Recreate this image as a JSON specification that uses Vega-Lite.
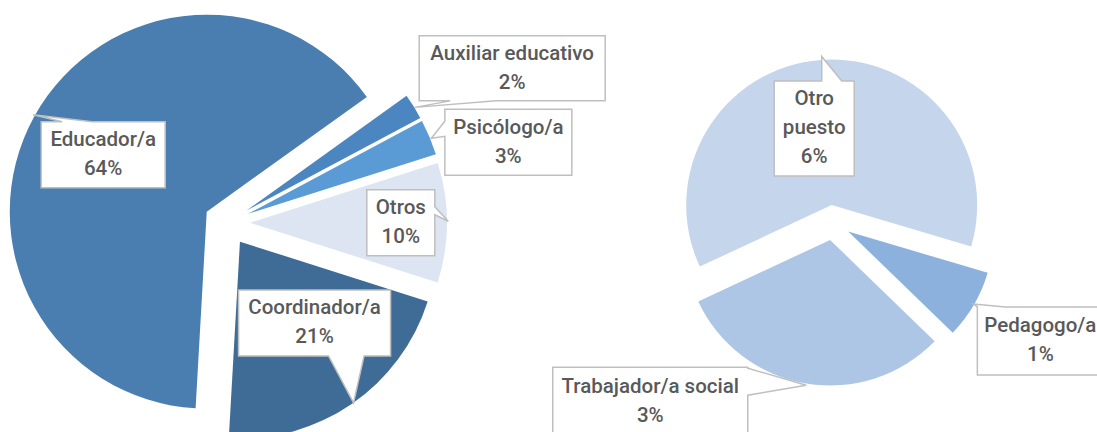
{
  "$schema": "https://vega.github.io/schema/vega-lite/v6.json",
  "autosize": {"type": "none"},
  "width": 1097,
  "height": 432,
  "padding": 0,
  "background": "white",
  "config": {"view": {"stroke": null}},
  "params": [
    {"name": "cx1", "value": 226.9},
    {"name": "cy1", "value": 222.75},
    {"name": "r1", "value": 197},
    {"name": "e1", "value": 23},
    {"name": "a1", "value": 0.9488},
    {"name": "cx2", "value": 833},
    {"name": "cy2", "value": 222.6},
    {"name": "r2", "value": 145.5},
    {"name": "e2", "value": 17.6},
    {"name": "a2", "value": 1.8588},
    {"name": "lab", "value": {
      "Educador/a": [0.60, 0],
      "Coordinador/a": [0.56, -8],
      "Otros": [0.766, 0],
      "Psicólogo/a": [1.37, 7.5],
      "Auxiliar educativo": [1.53, 3.7],
      "Otro puesto": [0.54, -8.6],
      "Trabajador/a social": [1.66, 38.6],
      "Pedagogo/a": [1.52, -0.6]
    }}
  ],
  "data": {"values": [
    {"grafico": "principal", "puesto": "Auxiliar educativo", "valor": 2.1, "orden": 1},
    {"grafico": "principal", "puesto": "Psicólogo/a", "valor": 2.9, "orden": 2},
    {"grafico": "principal", "puesto": "Otros", "valor": 9.8, "orden": 3},
    {"grafico": "principal", "puesto": "Coordinador/a", "valor": 21.0, "orden": 4},
    {"grafico": "principal", "puesto": "Educador/a", "valor": 64.2, "orden": 5},
    {"grafico": "secundario", "puesto": "Pedagogo/a", "valor": 0.75, "orden": 1},
    {"grafico": "secundario", "puesto": "Trabajador/a social", "valor": 3.02, "orden": 2},
    {"grafico": "secundario", "puesto": "Otro puesto", "valor": 6.03, "orden": 3}
  ]},
  "transform": [
    {"stack": "valor", "groupby": ["grafico"], "sort": [{"field": "orden", "order": "ascending"}], "as": ["ini", "fin"]}
  ],
  "resolve": {"scale": {"theta": "independent"}},
  "layer": [
    {
      "transform": [{"filter": "datum.grafico == 'principal'"}],
      "mark": {
        "type": "arc",
        "outerRadius": 197,
        "x": {"expr": "cx1 + e1*sin(a1 + PI*(datum.ini+datum.fin)/100)"},
        "y": {"expr": "cy1 - e1*cos(a1 + PI*(datum.ini+datum.fin)/100)"}
      },
      "encoding": {
        "theta": {"field": "ini", "type": "quantitative", "scale": {"domain": [0, 100], "range": [0.9488, 7.232]}},
        "theta2": {"field": "fin"},
        "color": {"field": "puesto", "type": "nominal", "legend": null,
          "scale": {"domain": ["Educador/a", "Coordinador/a", "Otros", "Psicólogo/a", "Auxiliar educativo", "Otro puesto", "Trabajador/a social", "Pedagogo/a"],
                    "range": ["#4a7eb0", "#3f6b97", "#dde5f3", "#5b9bd5", "#4b86c0", "#c5d6ec", "#adc6e5", "#8cb1dc"]}}
      }
    },
    {
      "transform": [{"filter": "datum.grafico == 'secundario'"}],
      "mark": {
        "type": "arc",
        "outerRadius": 145.5,
        "x": {"expr": "cx2 + e2*sin(a2 + PI*(datum.ini+datum.fin)/9.8)"},
        "y": {"expr": "cy2 - e2*cos(a2 + PI*(datum.ini+datum.fin)/9.8)"}
      },
      "encoding": {
        "theta": {"field": "ini", "type": "quantitative", "scale": {"domain": [0, 9.8], "range": [1.8588, 8.142]}},
        "theta2": {"field": "fin"},
        "color": {"field": "puesto", "type": "nominal", "legend": null}
      }
    },
    {
      "transform": [{"filter": "datum.puesto == 'Otros'"}],
      "mark": {
        "type": "rule", "stroke": "#a6a6a6", "strokeWidth": 1.5,
        "x": {"expr": "cx1 + e1*sin(a1 + PI*(datum.ini+datum.fin)/100) + r1*sin(a1 + 2*PI*datum.ini/100)"},
        "y": {"expr": "cy1 - e1*cos(a1 + PI*(datum.ini+datum.fin)/100) - r1*cos(a1 + 2*PI*datum.ini/100)"},
        "x2": {"expr": "cx2 - 58"},
        "y2": {"expr": "cy2 - 157"}
      },
      "encoding": {}
    },
    {
      "transform": [{"filter": "datum.puesto == 'Otros'"}],
      "mark": {
        "type": "rule", "stroke": "#a6a6a6", "strokeWidth": 1.5,
        "x": {"expr": "cx1 + e1*sin(a1 + PI*(datum.ini+datum.fin)/100) + r1*sin(a1 + 2*PI*datum.fin/100)"},
        "y": {"expr": "cy1 - e1*cos(a1 + PI*(datum.ini+datum.fin)/100) - r1*cos(a1 + 2*PI*datum.fin/100)"},
        "x2": {"expr": "cx2 - 58"},
        "y2": {"expr": "cy2 + 155"}
      },
      "encoding": {}
    },
    {
      "transform": [{"filter": "datum.grafico == 'principal'"}],
      "mark": {
        "type": "point", "size": 4, "filled": true, "fill": "white", "stroke": "#bfbfbf", "strokeWidth": 1.5, "opacity": 1,
        "x": {"expr": "cx1 + e1*sin(a1 + PI*(datum.ini+datum.fin)/100) + r1*lab[datum.puesto][0]*sin(a1 + PI*(datum.ini+datum.fin)/100 + lab[datum.puesto][1]*PI/180)"},
        "y": {"expr": "cy1 - e1*cos(a1 + PI*(datum.ini+datum.fin)/100) - r1*lab[datum.puesto][0]*cos(a1 + PI*(datum.ini+datum.fin)/100 + lab[datum.puesto][1]*PI/180)"}
      },
      "encoding": {
        "shape": {"field": "puesto", "type": "nominal", "legend": null,
          "scale": {"domain": ["Educador/a", "Coordinador/a", "Otros", "Psicólogo/a", "Auxiliar educativo", "Otro puesto", "Trabajador/a social", "Pedagogo/a"],
                    "range": [
                      "M-62,-33L-41,-33L-70,-40L-11,-33L62,-33L62,33L-62,33Z",
                      "M-76,-33L76,-33L76,33L49.5,33L39,80L14,33L-76,33Z",
                      "M-34,-33L34,-33L34,-16L47.5,-1.5L34,-8L34,33L-34,33Z",
                      "M-63.5,-33L63.5,-33L63.5,33L-63.5,33L-63.5,-6L-77,-4L-63.5,-21Z",
                      "M-93,-32.5L93,-32.5L93,32.5L-16,32.5L-97.5,39L-62,32.5L-93,32.5Z",
                      "M-40,-47.5L7.5,-47.5L7.5,-72L27.5,-47.5L40,-47.5L40,47.5L-40,47.5Z",
                      "M-97.5,-34L97.5,-34L97.5,-33L156,-16L97.5,-6L97.5,34L-97.5,34Z",
                      "M-63,-34L-67,-37L-35,-34L63,-34L63,34L-63,34Z"
                    ]}}
      }
    },
    {
      "transform": [{"filter": "datum.grafico == 'secundario'"}],
      "mark": {
        "type": "point", "size": 4, "filled": true, "fill": "white", "stroke": "#bfbfbf", "strokeWidth": 1.5, "opacity": 1,
        "x": {"expr": "cx2 + e2*sin(a2 + PI*(datum.ini+datum.fin)/9.8) + r2*lab[datum.puesto][0]*sin(a2 + PI*(datum.ini+datum.fin)/9.8 + lab[datum.puesto][1]*PI/180)"},
        "y": {"expr": "cy2 - e2*cos(a2 + PI*(datum.ini+datum.fin)/9.8) - r2*lab[datum.puesto][0]*cos(a2 + PI*(datum.ini+datum.fin)/9.8 + lab[datum.puesto][1]*PI/180)"}
      },
      "encoding": {
        "shape": {"field": "puesto", "type": "nominal", "legend": null}
      }
    },
    {
      "transform": [{"filter": "datum.grafico == 'principal'"}],
      "mark": {
        "type": "text", "align": "center", "baseline": "middle", "font": "Roboto", "fontSize": 20.5, "fontWeight": 500, "lineHeight": 29, "color": "#595959",
        "text": {"expr": "[datum.puesto, format(datum.valor/100, '.0%')]"},
        "x": {"expr": "cx1 + e1*sin(a1 + PI*(datum.ini+datum.fin)/100) + r1*lab[datum.puesto][0]*sin(a1 + PI*(datum.ini+datum.fin)/100 + lab[datum.puesto][1]*PI/180)"},
        "y": {"expr": "cy1 - e1*cos(a1 + PI*(datum.ini+datum.fin)/100) - r1*lab[datum.puesto][0]*cos(a1 + PI*(datum.ini+datum.fin)/100 + lab[datum.puesto][1]*PI/180) - 14.5"}
      },
      "encoding": {}
    },
    {
      "transform": [{"filter": "datum.grafico == 'secundario'"}],
      "mark": {
        "type": "text", "align": "center", "baseline": "middle", "font": "Roboto", "fontSize": 20.5, "fontWeight": 500, "lineHeight": 29, "color": "#595959",
        "text": {"expr": "datum.puesto == 'Otro puesto' ? ['Otro', 'puesto', format(datum.valor/100, '.0%')] : [datum.puesto, format(datum.valor/100, '.0%')]"},
        "x": {"expr": "cx2 + e2*sin(a2 + PI*(datum.ini+datum.fin)/9.8) + r2*lab[datum.puesto][0]*sin(a2 + PI*(datum.ini+datum.fin)/9.8 + lab[datum.puesto][1]*PI/180)"},
        "y": {"expr": "cy2 - e2*cos(a2 + PI*(datum.ini+datum.fin)/9.8) - r2*lab[datum.puesto][0]*cos(a2 + PI*(datum.ini+datum.fin)/9.8 + lab[datum.puesto][1]*PI/180) - (datum.puesto == 'Otro puesto' ? 29 : 14.5)"}
      },
      "encoding": {}
    }
  ]
}
